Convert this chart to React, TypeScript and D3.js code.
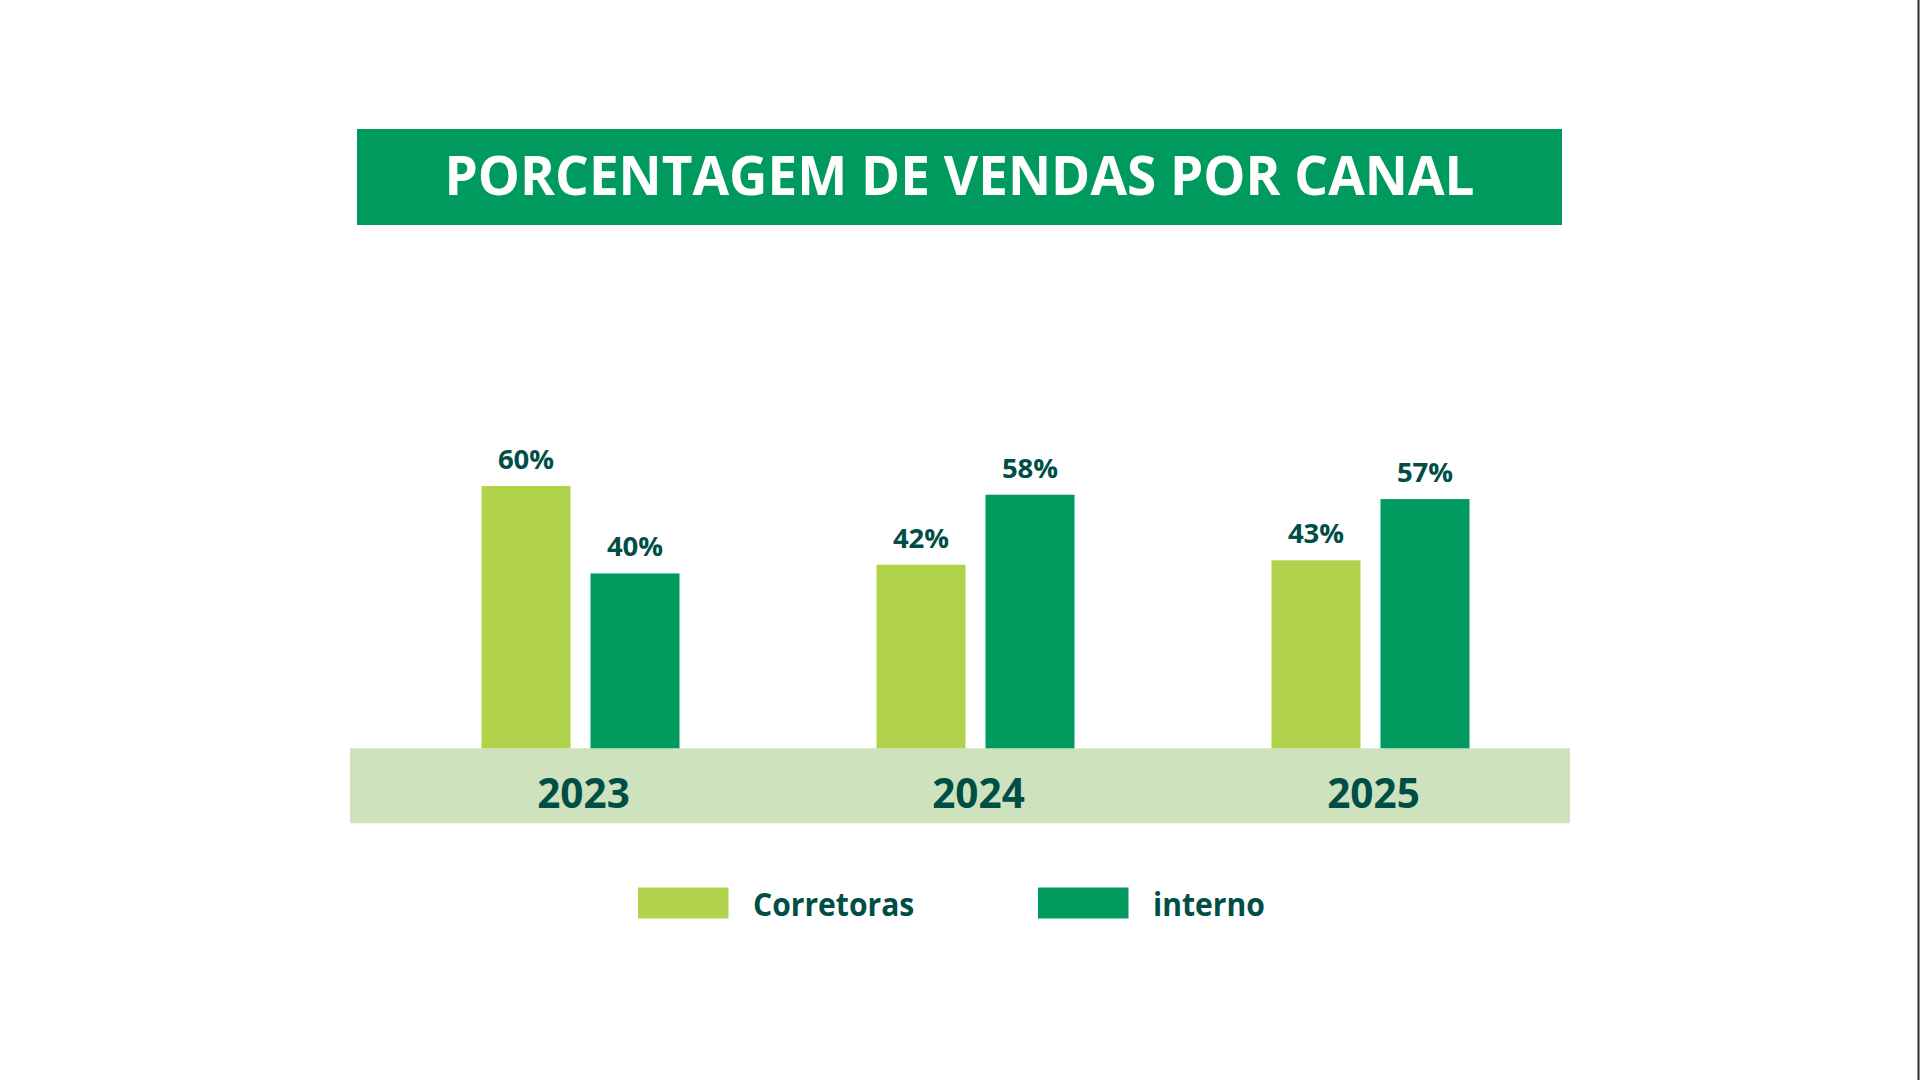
import * as d3 from "d3";

const years = ["2023", "2024", "2025"];
const series = ["Corretoras", "interno"];
const corretoras = [60, 42, 43];
const interno = [40, 58, 57];
const title = "PORCENTAGEM DE VENDAS POR CANAL";

const W = 1920;
const H = 1080;
const LIME = "#B1D34B";
const GREEN = "#009A5E";
const BAND = "#CEE3BD";
const DARK = "#004E46";
const FONT = "'Open Sans', 'Noto Sans', sans-serif";

const baseY = 748.3;

export default function App() {
  const x0 = d3.scaleBand<string>().domain(years).range([383, 1568]);
  const x1 = d3
    .scaleBand<string>()
    .domain(series)
    .range([-99, 99])
    .paddingInner(0.1835);
  const y = d3.scaleLinear().domain([0, 100]).range([baseY, baseY - 437.2]);
  const color = d3.scaleOrdinal<string, string>().domain(series).range([LIME, GREEN]);

  const rows = years.map((yr, i) => ({
    year: yr,
    values: [
      { key: series[0], v: corretoras[i] },
      { key: series[1], v: interno[i] },
    ],
  }));

  const legendX = d3.scaleOrdinal<string, number>().domain(series).range([638, 1038]);

  return (
    <svg
      width={W}
      height={H}
      style={{ position: "absolute", left: 0, top: 0, background: "#fff" }}
      fontFamily={FONT}
    >
      <rect width={W} height={H} fill="#fff" />
      <line x1={1918.5} x2={1918.5} y1={0} y2={H} stroke="#2a2a2a" strokeWidth={2} />

      {/* title */}
      <rect x={357} y={129} width={1205} height={96} fill={GREEN} />
      <text
        x={959.5}
        y={195}
        textAnchor="middle"
        fill="#fff"
        fontSize={54}
        fontWeight={700}
        textLength={1030}
        lengthAdjust="spacingAndGlyphs"
      >
        {title}
      </text>

      {/* axis strip */}
      <rect x={350} y={baseY} width={1220} height={75} fill={BAND} />

      {rows.map((r) => {
        const cx = (x0(r.year) ?? 0) + x0.bandwidth() / 2;
        return (
          <g key={r.year} transform={`translate(${cx},0)`}>
            {r.values.map((d) => (
              <g key={d.key}>
                <rect
                  x={x1(d.key)}
                  y={y(d.v)}
                  width={x1.bandwidth()}
                  height={baseY - y(d.v)}
                  fill={color(d.key)}
                />
                <text
                  x={(x1(d.key) ?? 0) + x1.bandwidth() / 2}
                  y={y(d.v) - 17}
                  textAnchor="middle"
                  fill={DARK}
                  fontSize={27.5}
                  fontWeight={700}
                >
                  {d.v}%
                </text>
              </g>
            ))}
            <text
              x={3}
              y={808}
              textAnchor="middle"
              fill={DARK}
              fontSize={40.5}
              fontWeight={700}
            >
              {r.year}
            </text>
          </g>
        );
      })}

      {/* legend */}
      {series.map((s) => (
        <g key={s} transform={`translate(${legendX(s)},887.5)`}>
          <rect width={90.5} height={31} fill={color(s)} />
          <text
            transform="translate(115,28.5) scale(0.94,1)"
            fill={DARK}
            fontSize={32}
            fontWeight={700}
          >
            {s}
          </text>
        </g>
      ))}
    </svg>
  );
}
